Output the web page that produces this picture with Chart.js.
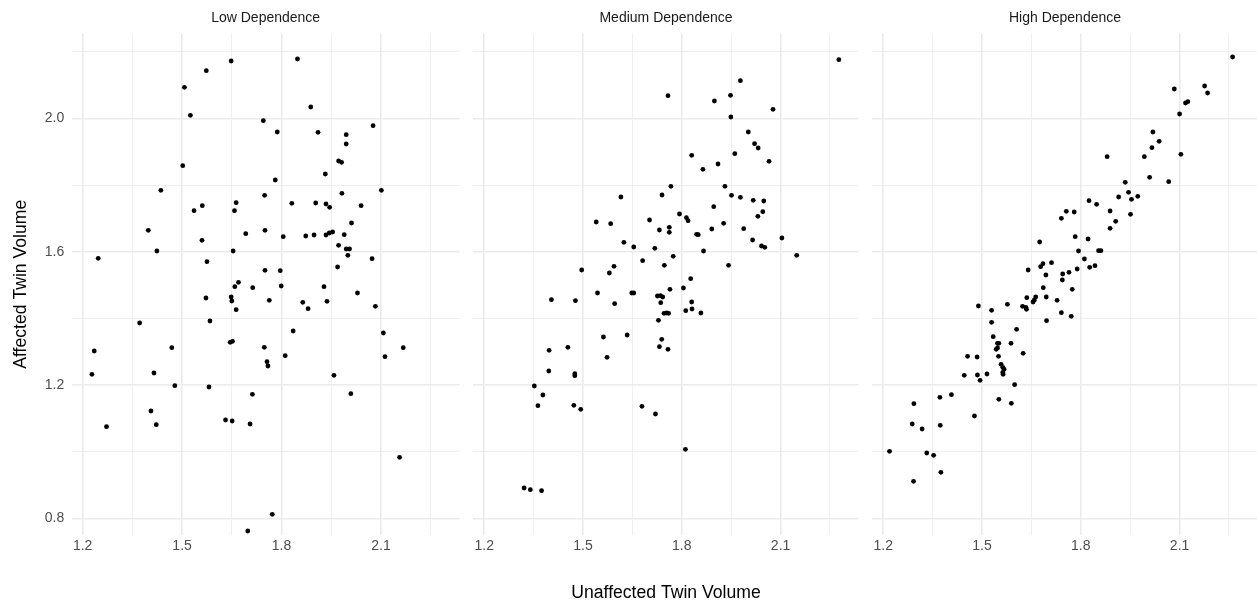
<!DOCTYPE html>
<html><head><meta charset="utf-8">
<script src="https://cdn.jsdelivr.net/npm/chart.js@4.4.0/dist/chart.umd.min.js"></script>
<style>
html,body{margin:0;padding:0;background:#fff;}
#wrap{position:relative;width:1257px;height:606px;overflow:hidden;background:#fff;}
canvas{position:absolute;top:0;}
</style></head><body>
<div id="wrap">
<canvas id="c1" width="462" height="606" style="left:0px"></canvas>
<canvas id="c2" width="390" height="606" style="left:471px"></canvas>
<canvas id="c3" width="390" height="606" style="left:870px"></canvas>
</div>
<script>
// ---- data ----
const panelTitles = ['Low Dependence', 'Medium Dependence', 'High Dependence'];
const xTitle = 'Unaffected Twin Volume';
const yTitle = 'Affected Twin Volume';
const xTickValues = [1.2, 1.35, 1.5, 1.65, 1.8, 1.95, 2.1, 2.25];
const xTickLabels = ['1.2', '', '1.5', '', '1.8', '', '2.1', ''];
const yTickValues = [0.8, 1.0, 1.2, 1.4, 1.6, 1.8, 2.0, 2.2];
const yTickLabels = ['0.8', '', '1.2', '', '1.6', '', '2.0', ''];

const lowX = [1.648,1.573,1.507,1.525,1.502,1.436,1.536,1.561,1.663,1.658,1.398,1.692,1.560,1.424,1.654,1.247,1.575,1.670,1.659,1.713,
1.572,1.648,1.650,1.663,1.372,1.584,1.645,1.652,1.235,1.469,1.228,1.415,1.478,1.581,1.712,1.406,1.272,1.422,1.631,1.651,1.705,1.698,
1.848,1.888,1.745,1.787,1.910,2.076,1.995,1.995,1.972,1.981,1.932,1.781,1.749,1.982,2.101,1.831,1.903,1.934,1.945,2.040,1.750,1.805,
2.011,1.873,1.898,1.934,1.944,1.954,1.989,1.972,1.995,2.005,2.000,2.073,1.750,1.796,1.969,1.799,1.928,1.763,1.864,1.880,1.937,2.029,
2.083,1.835,2.107,2.167,1.748,1.811,2.112,1.756,1.759,1.958,2.009,2.156,1.772];
const lowY = [2.172,2.143,2.093,2.009,1.858,1.784,1.723,1.738,1.747,1.723,1.664,1.654,1.634,1.602,1.602,1.580,1.570,1.508,1.495,1.492,
1.461,1.464,1.452,1.426,1.386,1.392,1.328,1.331,1.302,1.312,1.232,1.236,1.198,1.194,1.172,1.122,1.075,1.081,1.095,1.092,1.083,0.762,
2.178,2.034,1.993,1.959,1.958,1.978,1.951,1.923,1.872,1.868,1.833,1.815,1.769,1.775,1.784,1.745,1.746,1.743,1.733,1.738,1.664,1.645,
1.686,1.647,1.650,1.650,1.656,1.659,1.651,1.619,1.608,1.608,1.589,1.579,1.544,1.543,1.554,1.497,1.495,1.454,1.448,1.429,1.451,1.476,
1.436,1.362,1.356,1.312,1.313,1.288,1.285,1.270,1.257,1.229,1.174,0.983,0.812];

const medX = [1.615,1.540,1.584,1.702,1.732,1.624,1.654,1.718,1.681,1.496,1.580,1.594,2.277,1.978,1.758,1.899,1.948,2.077,1.949,2.002,
2.021,2.032,1.830,1.961,2.065,1.864,1.910,1.767,1.931,1.740,1.951,1.978,2.017,2.049,1.897,2.046,2.031,1.793,1.814,1.819,1.762,1.762,
1.845,1.850,1.891,1.927,1.988,1.866,2.015,2.042,2.052,2.104,2.149,1.774,1.747,1.942,1.827,1.764,1.805,1.404,1.477,1.544,1.596,1.648,
1.654,1.562,1.634,1.397,1.454,1.573,1.396,1.475,1.475,1.352,1.378,1.363,1.472,1.493,1.679,1.720,1.321,1.340,1.374,1.726,1.735,1.742,
1.736,1.830,1.812,1.831,1.858,1.746,1.754,1.760,1.729,1.739,1.732,1.758,1.811];
const medY = [1.764,1.689,1.684,1.695,1.665,1.628,1.614,1.610,1.573,1.545,1.536,1.556,2.176,2.113,2.068,2.052,2.069,2.027,2.004,1.959,
1.924,1.911,1.889,1.894,1.871,1.847,1.863,1.796,1.796,1.770,1.769,1.763,1.754,1.752,1.735,1.720,1.706,1.713,1.702,1.693,1.673,1.658,
1.652,1.651,1.668,1.685,1.669,1.602,1.635,1.617,1.613,1.641,1.589,1.586,1.559,1.559,1.519,1.487,1.491,1.456,1.453,1.476,1.444,1.476,
1.476,1.344,1.350,1.304,1.313,1.283,1.242,1.234,1.228,1.197,1.170,1.138,1.139,1.127,1.136,1.113,0.891,0.886,0.883,1.467,1.468,1.464,
1.447,1.449,1.423,1.428,1.416,1.415,1.416,1.415,1.394,1.337,1.315,1.307,1.007];

const highX = [1.675,1.711,1.685,1.678,1.640,1.694,1.686,2.261,2.176,2.185,2.084,2.118,2.125,2.100,2.019,2.038,2.016,1.993,1.880,2.104,
2.009,2.067,1.935,1.945,1.915,1.973,1.954,1.825,1.848,1.889,1.951,1.756,1.780,1.741,1.906,1.889,1.783,1.822,1.793,1.854,1.861,1.811,
1.827,1.843,1.789,1.764,1.745,1.744,1.774,1.636,1.663,1.659,1.655,1.695,1.728,1.623,1.633,1.635,1.489,1.529,1.577,1.696,1.529,1.605,
1.534,1.547,1.551,1.543,1.547,1.588,1.625,1.550,1.456,1.485,1.558,1.563,1.567,1.563,1.564,1.446,1.486,1.494,1.515,1.599,1.551,1.589,
1.372,1.407,1.293,1.477,1.288,1.318,1.373,1.219,1.332,1.353,1.375,1.292,1.741,1.771];
const highY = [1.629,1.567,1.564,1.555,1.545,1.530,1.492,2.184,2.097,2.076,2.088,2.046,2.050,2.013,1.959,1.931,1.912,1.885,1.885,1.892,
1.823,1.810,1.808,1.778,1.764,1.766,1.757,1.753,1.742,1.722,1.712,1.721,1.719,1.700,1.691,1.670,1.645,1.638,1.602,1.603,1.603,1.578,
1.553,1.558,1.548,1.538,1.533,1.515,1.487,1.462,1.464,1.455,1.449,1.464,1.454,1.436,1.433,1.427,1.437,1.424,1.442,1.393,1.388,1.367,
1.345,1.325,1.325,1.307,1.311,1.325,1.295,1.286,1.286,1.284,1.262,1.253,1.247,1.238,1.232,1.229,1.230,1.214,1.233,1.201,1.157,1.145,
1.163,1.171,1.144,1.107,1.083,1.068,1.079,1.001,0.996,0.989,0.938,0.911,1.417,1.406];

const xMin = 1.167, xMax = 2.337;
const yMin = 0.750, yMax = 2.2545;

// ---- build ----
const FONT = '"Liberation Sans", Arial, Helvetica, sans-serif';
Chart.defaults.font.family = FONT;
Chart.defaults.animation = false;

function pts(xs, ys) { return xs.map((x, i) => ({ x: x, y: ys[i] })); }

function makeChart(id, title, xs, ys, opts) {
  const showY = opts.showY, showXTitle = opts.showXTitle;
  return new Chart(document.getElementById(id), {
    type: 'scatter',
    data: { datasets: [{ data: pts(xs, ys), backgroundColor: '#000', borderWidth: 0, pointRadius: 2.4, pointHoverRadius: 2.4 }] },
    options: {
      responsive: false,
      animation: false,
      events: [],
      layout: { padding: 0 },
      plugins: {
        legend: { display: false },
        tooltip: { enabled: false },
        title: { display: true, text: title, fullSize: false, color: '#1A1A1A',
                 font: { size: 14, weight: 'normal', family: FONT, lineHeight: 1.2 },
                 padding: { top: 10, bottom: 6.7 } }
      },
      scales: {
        x: {
          type: 'linear', min: xMin, max: xMax,
          afterBuildTicks: s => { s.ticks = xTickValues.map(v => ({ value: v })); },
          afterFit: s => { s.height = 71; },
          ticks: { autoSkip: false, maxRotation: 0, padding: 3, color: '#4D4D4D',
                   font: { size: 14, family: FONT },
                   callback: (v, i) => xTickLabels[i] },
          grid: { color: '#EBEBEB', drawTicks: false,
                  lineWidth: c => (c.index !== undefined && xTickLabels[c.index]) ? 1.6 : 0.8 },
          border: { display: false },
          title: { display: showXTitle, text: xTitle, color: '#000',
                   font: { size: 17.6, family: FONT, lineHeight: 1.2 }, padding: { top: 0, bottom: 2.4 } }
        },
        y: {
          type: 'linear', min: yMin, max: yMax,
          afterBuildTicks: s => { s.ticks = yTickValues.map(v => ({ value: v })); },
          afterFit: s => { s.width = showY ? 71.7 : 0; },
          ticks: { display: showY, autoSkip: false, padding: 7.5, color: '#4D4D4D',
                   font: { size: 14, family: FONT },
                   callback: (v, i) => yTickLabels[i] },
          grid: { color: '#EBEBEB', drawTicks: false,
                  lineWidth: c => (c.index !== undefined && yTickLabels[c.index]) ? 1.6 : 0.8 },
          border: { display: false },
          title: { display: showY, text: yTitle, color: '#000',
                   font: { size: 17.6, family: FONT, lineHeight: 1.2 }, padding: { top: 10.5, bottom: 0 } }
        }
      }
    }
  });
}

makeChart('c1', panelTitles[0], lowX, lowY, { showY: true, showXTitle: false });
makeChart('c2', panelTitles[1], medX, medY, { showY: false, showXTitle: true });
makeChart('c3', panelTitles[2], highX, highY, { showY: false, showXTitle: false });
</script>
</body></html>
